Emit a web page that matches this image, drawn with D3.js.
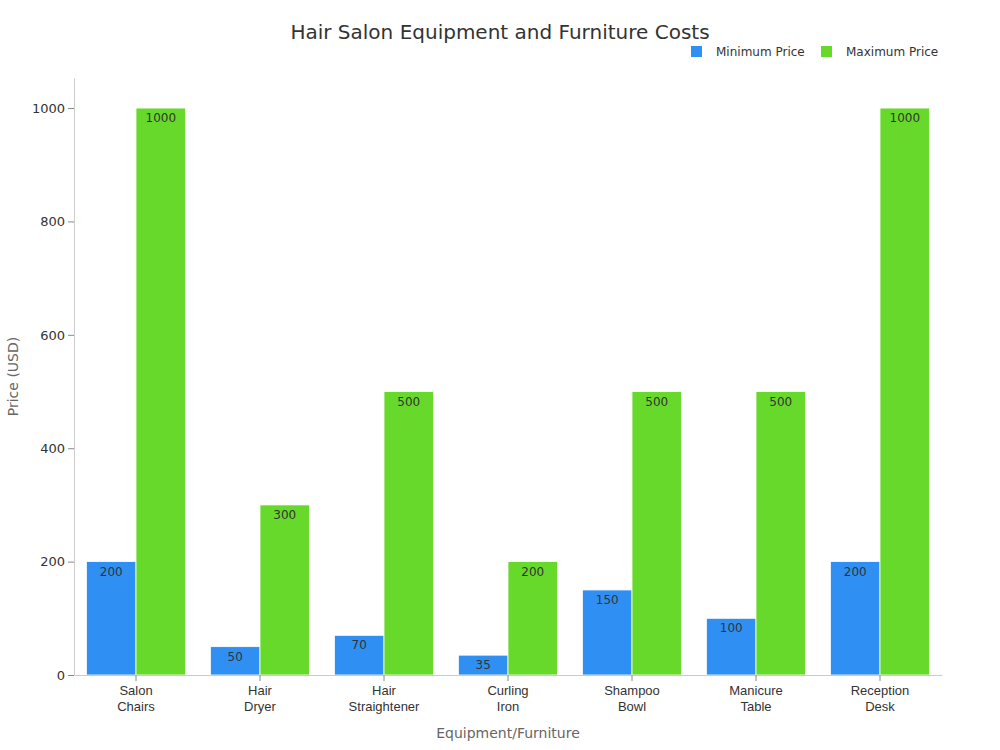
<!DOCTYPE html>
<html>
<head>
<meta charset="utf-8">
<script src="https://cdn.jsdelivr.net/npm/d3@7"></script>
<style>
  body { margin: 0; background: #fff; font-family: "DejaVu Sans", sans-serif; }
</style>
</head>
<body>
<svg id="chart"></svg>
<script>
const categories = [["Salon", "Chairs"], ["Hair", "Dryer"], ["Hair", "Straightener"], ["Curling", "Iron"], ["Shampoo", "Bowl"], ["Manicure", "Table"], ["Reception", "Desk"]];
const minPrice = [200, 50, 70, 35, 150, 100, 200];
const maxPrice = [1000, 300, 500, 200, 500, 500, 1000];
const seriesNames = ["Minimum Price", "Maximum Price"];
const seriesColors = ["#2f8ff3", "#66d92a"];
const yTicks = [0, 200, 400, 600, 800, 1000];

const width = 1000, height = 750;
const margin = { top: 78, right: 58, bottom: 75, left: 74 };

const svg = d3.select("#chart").attr("width", width).attr("height", height);

const keys = categories.map(d => d.join(" "));
const x = d3.scaleBand().domain(keys).range([margin.left, width - margin.right]).paddingInner(0.2).paddingOuter(0.1);
const x1 = d3.scaleBand().domain([0, 1]).range([0, x.bandwidth()]);
const y = d3.scaleLinear().domain([0, 1053]).range([height - margin.bottom, margin.top]);

// y axis
const yAxis = svg.append("g")
  .attr("transform", `translate(${margin.left},0)`)
  .call(d3.axisLeft(y).tickValues(yTicks).tickFormat(d3.format("d")).tickSizeOuter(0));
yAxis.select(".domain").attr("stroke", "#ccc");
yAxis.selectAll(".tick line").attr("stroke", "#888");
yAxis.selectAll("text").attr("fill", "#333").style("font-size", "13px").style("font-family", "DejaVu Sans");

// bars
const rows = keys.map((k, i) => ({ key: k, vals: [minPrice[i], maxPrice[i]] }));
const groups = svg.append("g").selectAll("g").data(rows).join("g")
  .attr("transform", d => `translate(${x(d.key)},0)`);

groups.selectAll("rect").data(d => d.vals).join("rect")
  .attr("x", (d, i) => x1(i))
  .attr("y", d => y(d))
  .attr("width", x1.bandwidth())
  .attr("height", d => y(0) - y(d))
  .attr("fill", (d, i) => seriesColors[i])
  .attr("stroke", "#fff")
  .attr("stroke-width", 0.8);

groups.selectAll("text").data(d => d.vals).join("text")
  .attr("x", (d, i) => x1(i) + x1.bandwidth() / 2)
  .attr("y", d => y(d) + 14)
  .attr("text-anchor", "middle")
  .attr("fill", "#333")
  .style("font-size", "12px")
  .text(d => d);

// x axis
const xAxis = svg.append("g")
  .attr("transform", `translate(0,${y(0)})`)
  .call(d3.axisBottom(x).tickSizeOuter(0).tickFormat(""));
xAxis.select(".domain").attr("stroke", "#ccc");
xAxis.selectAll(".tick line").attr("stroke", "#888");
xAxis.selectAll(".tick").append("text")
  .attr("fill", "#333")
  .attr("text-anchor", "middle")
  .style("font-size", "13px")
  .selectAll("tspan").data((d, i) => categories[i]).join("tspan")
  .attr("x", 0)
  .attr("y", (d, i) => 20 + i * 16)
  .text(d => d);

// title
svg.append("text")
  .attr("x", 500).attr("y", 39)
  .attr("text-anchor", "middle")
  .attr("fill", "#333")
  .style("font-size", "20px")
  .text("Hair Salon Equipment and Furniture Costs");

// axis titles
svg.append("text")
  .attr("x", 508).attr("y", 738)
  .attr("text-anchor", "middle")
  .attr("fill", "#666")
  .style("font-size", "14px")
  .text("Equipment/Furniture");

svg.append("text")
  .attr("transform", `translate(18,${(y(0) + margin.top) / 2}) rotate(-90)`)
  .attr("text-anchor", "middle")
  .attr("fill", "#666")
  .style("font-size", "14px")
  .text("Price (USD)");

// legend
const legendX = [691, 821];
const legend = svg.append("g").selectAll("g").data(seriesNames).join("g")
  .attr("transform", (d, i) => `translate(${legendX[i]},46)`);
legend.append("rect").attr("width", 11).attr("height", 11).attr("fill", (d, i) => seriesColors[i]);
legend.append("text").attr("x", 25).attr("y", 10).attr("fill", "#333").style("font-size", "12px").text(d => d);
</script>
</body>
</html>
